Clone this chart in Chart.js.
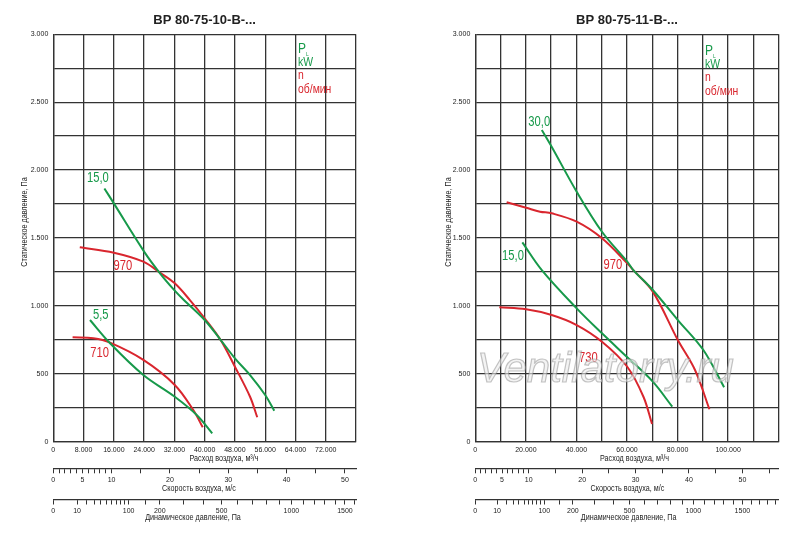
<!DOCTYPE html>
<html>
<head>
<meta charset="utf-8">
<script src="https://cdn.jsdelivr.net/npm/chart.js@4.4.1/dist/chart.umd.min.js"></script>
<style>
  html, body { margin: 0; padding: 0; background: #fff; }
  #wrap { width: 800px; height: 540px; display: flex; }
  .box { width: 400px; height: 540px; position: relative; }
</style>
</head>
<body>
<div id="wrap">
  <div class="box"><canvas id="chartA"></canvas></div>
  <div class="box"><canvas id="chartB"></canvas></div>
</div>
<script>
// values: air flow (m3/h) and static pressure (Pa)

// BP 80-75-10
const a15Flow  = [13500, 16000, 24000, 28200, 32100, 34500, 40000, 44100, 48000, 52000, 56000, 58400];
const a15Pres  = [1865, 1755, 1400, 1240, 1112, 1043, 896, 754, 614, 491, 344, 228];
const a970Flow = [7000, 16000, 23800, 28200, 32100, 36100, 40000, 44100, 48000, 52000, 53900];
const a970Pres = [1432, 1392, 1326, 1245, 1166, 1043, 909, 754, 552, 331, 180];
const a55Flow  = [9700, 15000, 23800, 32100, 37900, 42000];
const a55Pres  = [896, 725, 491, 331, 197, 62];
const a710Flow = [5100, 10600, 15000, 23800, 32100, 37000, 39500];
const a710Pres = [769, 761, 729, 602, 418, 233, 106];

// BP 80-75-11
const b30Flow  = [26300, 30200, 40100, 50100, 60100, 62500, 70200, 80100, 90200, 98400];
const b30Pres  = [2295, 2172, 1841, 1546, 1326, 1264, 1117, 896, 675, 401];
const b970Flow = [12400, 20100, 25600, 30200, 40100, 50100, 60100, 62500, 70200, 80100, 86900, 92600];
const b970Pres = [1763, 1723, 1694, 1682, 1620, 1498, 1314, 1264, 1105, 749, 528, 239];
const b15Flow  = [18600, 26300, 40100, 50100, 60100, 70200, 77900];
const b15Pres  = [1468, 1264, 982, 798, 622, 442, 258];
const b730Flow = [9500, 20100, 30200, 40100, 50100, 60100, 66500, 69900];
const b730Pres = [990, 975, 933, 859, 736, 552, 331, 130];

// axes
const flowMaxA = 80000, flowStepA = 8000, flowLabelStepA = 8000;
const flowMaxB = 120000, flowStepB = 10000, flowLabelStepB = 20000;
const presMax = 3000, presStep = 250, presLabelStep = 500;

// velocity scale end (m/s at the right edge of the plot)
const speedMaxA = 51.9;
const speedMaxB = 56.8;
const speedTicksA = [0, 1, 2, 3, 4, 5, 6, 7, 8, 9, 10, 15, 20, 25, 30, 35, 40, 45, 50];
const speedTicksB = [0, 1, 2, 3, 4, 5, 6, 7, 8, 9, 10, 15, 20, 25, 30, 35, 40, 45, 50, 55];
const speedLabels = [0, 5, 10, 20, 30, 40, 50];

const dpTicksA = [0, 10, 20, 30, 40, 50, 60, 70, 80, 90, 100, 150, 200, 300, 400, 500, 600, 700, 800, 900, 1000, 1100, 1200, 1300, 1400, 1500, 1600];
const dpTicksB = dpTicksA.concat([1700, 1800, 1900]);
const dpLabels = [0, 10, 100, 200, 500, 1000, 1500];
const airDensity = 1.2;

const GREEN = '#17994a';
const RED = '#d9262e';
const INK = '#333';
const FONT = '"Liberation Sans", Arial, sans-serif';
const NARROW = 0.8;

function pts(xs, ys) {
    return xs.map((x, i) => ({ x: x, y: ys[i] }));
}

function dots(v) {
    return String(v).replace(/\B(?=(\d{3})+(?!\d))/g, '.');
}

// speed in m/s for a dynamic pressure in Pa
function dpToSpeed(p) {
    return Math.sqrt(2 * p / airDensity);
}

function line(data, color) {
    return {
        data: data,
        showLine: true,
        borderColor: color,
        borderWidth: 2,
        pointRadius: 0,
        tension: 0.35,
        fill: false
    };
}

// condensed text, the original uses a narrow face
function narrowText(c, text, x, y, font, color, align, angle) {
    c.save();
    c.translate(x, y);
    if (angle) c.rotate(angle);
    c.scale(NARROW, 1);
    c.font = font;
    c.fillStyle = color;
    c.textAlign = align || 'left';
    c.textBaseline = 'middle';
    c.fillText(text, 0, 0);
    c.restore();
}

// text on top of the plot: curve marks, legend, axis titles, watermark
const notesPlugin = {
    id: 'notes',
    afterDraw(chart, args, opts) {
        const c = chart.ctx;
        const x = chart.scales.x, y = chart.scales.y;

        opts.marks.forEach(m => {
            narrowText(c, m.text, x.getPixelForValue(m.x), y.getPixelForValue(m.y),
                '14px ' + FONT, m.color, 'center');
        });

        const lx = opts.legendX, ly = opts.legendY;
        narrowText(c, 'P', lx, ly, '15px ' + FONT, GREEN);
        narrowText(c, 'L', lx + 8, ly + 5, '6px ' + FONT, GREEN);
        narrowText(c, 'kW', lx, ly + 13, '13px ' + FONT, GREEN);
        narrowText(c, 'n', lx, ly + 26, '13px ' + FONT, RED);
        narrowText(c, 'об/мин', lx, ly + 40, '13px ' + FONT, RED);

        opts.titles.forEach(t => narrowText(c, t.text, t.x, t.y, '9px ' + FONT, '#222', 'center'));
        narrowText(c, 'Статическое давление, Па', opts.yTitle.x, opts.yTitle.y,
            '9px ' + FONT, '#222', 'center', -Math.PI / 2);

        if (opts.watermark) {
            c.save();
            c.font = 'italic 42px ' + FONT;
            c.textAlign = 'left';
            c.textBaseline = 'alphabetic';
            c.fillStyle = 'rgba(235,235,235,0.6)';
            c.strokeStyle = 'rgba(140,140,140,0.5)';
            c.lineWidth = 1.2;
            c.fillText(opts.watermark.text, opts.watermark.x, opts.watermark.y);
            c.strokeText(opts.watermark.text, opts.watermark.x, opts.watermark.y);
            c.restore();
        }
    }
};

function makeChart(id, o) {
    const tickFont = { family: FONT, size: 7 };
    return new Chart(document.getElementById(id), {
        type: 'scatter',
        data: { datasets: o.datasets },
        options: {
            responsive: true,
            maintainAspectRatio: false,
            animation: false,
            layout: { padding: { left: 0, right: o.padRight, top: 0, bottom: 10 } },
            plugins: {
                legend: { display: false },
                tooltip: { enabled: false },
                title: {
                    display: true,
                    text: o.title,
                    fullSize: false,
                    color: '#222',
                    font: { family: FONT, size: 13, weight: 'bold' },
                    padding: { top: 12.5, bottom: 6.2 }
                },
                notes: o.notes
            },
            scales: {
                x: {
                    type: 'linear',
                    min: 0,
                    max: o.flowMax,
                    weight: 0,
                    afterFit: s => { s.height = 26.6; },
                    grid: { color: INK, lineWidth: 1.3, drawTicks: false },
                    border: { color: INK, width: 1.3 },
                    ticks: {
                        stepSize: o.flowStep,
                        autoSkip: false,
                        maxRotation: 0,
                        padding: 4,
                        color: '#222',
                        font: tickFont,
                        callback: v => (v % o.flowLabelStep === 0 && v < o.flowMax) ? dots(v) : ''
                    }
                },
                y: {
                    type: 'linear',
                    min: 0,
                    max: presMax,
                    afterFit: s => { s.width = o.yWidth; },
                    grid: { color: INK, lineWidth: 1.3, drawTicks: false },
                    border: { color: INK, width: 1.3 },
                    ticks: {
                        stepSize: presStep,
                        autoSkip: false,
                        padding: 5,
                        color: '#222',
                        font: tickFont,
                        callback: v => v % presLabelStep === 0 ? dots(v) : ''
                    }
                },
                speed: {
                    type: 'linear',
                    axis: 'x',
                    position: 'bottom',
                    weight: 1,
                    min: 0,
                    max: o.speedMax,
                    afterFit: s => { s.height = 31.7; },
                    afterBuildTicks: s => { s.ticks = o.speedTicks.map(v => ({ value: v })); },
                    grid: { drawOnChartArea: false, drawTicks: true, tickLength: 5, tickColor: INK, lineWidth: 1 },
                    border: { color: INK, width: 1.2 },
                    ticks: {
                        autoSkip: false,
                        maxRotation: 0,
                        padding: 3,
                        color: '#222',
                        font: tickFont,
                        callback: v => speedLabels.includes(v) ? String(v) : ''
                    }
                },
                dp: {
                    type: 'linear',
                    axis: 'x',
                    position: 'bottom',
                    weight: 2,
                    min: 0,
                    max: o.speedMax,
                    afterFit: s => { s.height = 30; },
                    afterBuildTicks: s => { s.ticks = o.dpTicks.map(p => ({ value: dpToSpeed(p), p: p })); },
                    grid: { drawOnChartArea: false, drawTicks: true, tickLength: 4.5, tickColor: INK, lineWidth: 1 },
                    border: { color: INK, width: 1.2 },
                    ticks: {
                        autoSkip: false,
                        maxRotation: 0,
                        padding: 2,
                        color: '#222',
                        font: tickFont,
                        callback: (v, i, t) => dpLabels.includes(t[i].p) ? String(t[i].p) : ''
                    }
                }
            }
        },
        plugins: [notesPlugin]
    });
}

makeChart('chartA', {
    title: 'ВР 80-75-10-В-...',
    padRight: 44,
    yWidth: 53.3,
    flowMax: flowMaxA,
    flowStep: flowStepA,
    flowLabelStep: flowLabelStepA,
    speedMax: speedMaxA,
    speedTicks: speedTicksA,
    dpTicks: dpTicksA,
    datasets: [
        line(pts(a15Flow, a15Pres), GREEN),
        line(pts(a55Flow, a55Pres), GREEN),
        line(pts(a970Flow, a970Pres), RED),
        line(pts(a710Flow, a710Pres), RED)
    ],
    notes: {
        marks: [
            { text: '15,0', x: 11800, y: 1940, color: GREEN },
            { text: '970', x: 18400, y: 1290, color: RED },
            { text: '5,5', x: 12550, y: 935, color: GREEN },
            { text: '710', x: 12260, y: 653, color: RED }
        ],
        legendX: 298, legendY: 49,
        titles: [
            { text: 'Расход воздуха, м³/ч', x: 224, y: 459 },
            { text: 'Скорость воздуха, м/с', x: 199, y: 489 },
            { text: 'Динамическое давление, Па', x: 193, y: 518 }
        ],
        yTitle: { x: 25, y: 222 }
    }
});

makeChart('chartB', {
    title: 'ВР 80-75-11-В-...',
    padRight: 21.3,
    yWidth: 75.3,
    flowMax: flowMaxB,
    flowStep: flowStepB,
    flowLabelStep: flowLabelStepB,
    speedMax: speedMaxB,
    speedTicks: speedTicksB,
    dpTicks: dpTicksB,
    datasets: [
        line(pts(b30Flow, b30Pres), GREEN),
        line(pts(b15Flow, b15Pres), GREEN),
        line(pts(b970Flow, b970Pres), RED),
        line(pts(b730Flow, b730Pres), RED)
    ],
    notes: {
        marks: [
            { text: '30,0', x: 25300, y: 2352, color: GREEN },
            { text: '15,0', x: 14900, y: 1370, color: GREEN },
            { text: '970', x: 54400, y: 1301, color: RED },
            { text: '730', x: 44700, y: 616, color: RED }
        ],
        legendX: 305, legendY: 51,
        titles: [
            { text: 'Расход воздуха, м³/ч', x: 234.5, y: 459 },
            { text: 'Скорость воздуха, м/с', x: 227.5, y: 489 },
            { text: 'Динамическое давление, Па', x: 228.7, y: 518 }
        ],
        yTitle: { x: 48.3, y: 222 },
        watermark: { text: 'Ventilatorry.ru', x: 77, y: 381.7 }
    }
});
</script>
</body>
</html>
